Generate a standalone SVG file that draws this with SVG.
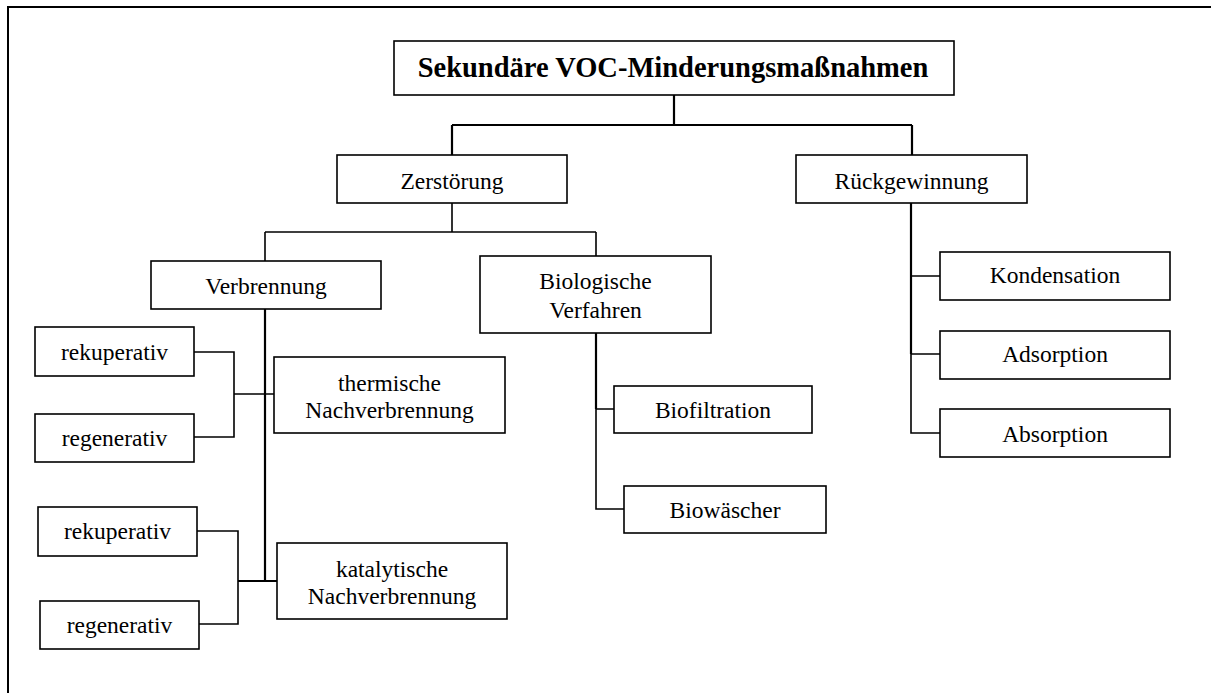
<svg xmlns="http://www.w3.org/2000/svg" width="1211" height="693" viewBox="0 0 1211 693">
<style>
.box{fill:#fff;stroke:#000;stroke-width:1.6}
.t{font-family:"Liberation Serif","Times New Roman",serif;font-size:23.5px;fill:#000;text-anchor:middle}
.tb{font-family:"Liberation Serif","Times New Roman",serif;font-size:28.5px;font-weight:bold;fill:#000;text-anchor:middle}
.c{fill:none;stroke:#000;stroke-width:1.6}
.c2{fill:none;stroke:#000;stroke-width:2.2}
</style>
<rect width="1211" height="693" fill="#fff"/>
<path d="M8,700 V7 H1220" fill="none" stroke="#000" stroke-width="2"/>
<g id="connectors">
<path class="c2" d="M674,95 V125 M452,125 H912 M452,125 V155 M912,125 V155"/>
<path class="c" d="M452,203 V232 M265,232 H596 M265,232 V261 M596,232 V256"/>
<path class="c2" d="M265,309 V581"/>
<path class="c" d="M194,352 H234 V437 H194 M234,394 H274"/>
<path class="c2" d="M238,581 H277"/>
<path class="c" d="M197,531 H238 V624 H199"/>
<path class="c2" d="M596,333 V409"/>
<path class="c" d="M596,409 V509 H624 M596,409 H614"/>
<path class="c2" d="M911,203 V354"/>
<path class="c" d="M911,354 V433 H940 M911,276 H940 M911,354 H940"/>
</g>
<g id="title"><rect class="box" x="394" y="41" width="560" height="54" stroke-width="2"/><text class="tb" x="673" y="77">Sekundäre VOC-Minderungsmaßnahmen</text></g>
<g id="zerstoerung"><rect class="box" x="337" y="155" width="230" height="48"/><text class="t" x="452" y="189">Zerstörung</text></g>
<g id="rueckgewinnung"><rect class="box" x="796" y="155" width="231" height="48"/><text class="t" x="911.5" y="189">Rückgewinnung</text></g>
<g id="verbrennung"><rect class="box" x="151" y="261" width="230" height="48"/><text class="t" x="266" y="294">Verbrennung</text></g>
<g id="biologische"><rect class="box" x="480" y="256" width="231" height="77"/><text class="t" x="595.5" y="289">Biologische</text><text class="t" x="595.5" y="318">Verfahren</text></g>
<g id="rekuperativ1"><rect class="box" x="35" y="327" width="159" height="49"/><text class="t" x="114.5" y="360">rekuperativ</text></g>
<g id="regenerativ1"><rect class="box" x="35" y="414" width="159" height="48"/><text class="t" x="114.5" y="446">regenerativ</text></g>
<g id="thermische"><rect class="box" x="274" y="357" width="231" height="76"/><text class="t" x="389.5" y="391">thermische</text><text class="t" x="389.5" y="418">Nachverbrennung</text></g>
<g id="rekuperativ2"><rect class="box" x="38" y="507" width="159" height="49"/><text class="t" x="117.5" y="539">rekuperativ</text></g>
<g id="regenerativ2"><rect class="box" x="40" y="601" width="159" height="48"/><text class="t" x="119.5" y="633">regenerativ</text></g>
<g id="katalytische"><rect class="box" x="277" y="543" width="230" height="76"/><text class="t" x="392" y="577">katalytische</text><text class="t" x="392" y="604">Nachverbrennung</text></g>
<g id="biofiltration"><rect class="box" x="614" y="386" width="198" height="47"/><text class="t" x="713" y="418">Biofiltration</text></g>
<g id="biowaescher"><rect class="box" x="624" y="486" width="202" height="47"/><text class="t" x="725" y="518">Biowäscher</text></g>
<g id="kondensation"><rect class="box" x="940" y="252" width="230" height="48"/><text class="t" x="1055" y="283">Kondensation</text></g>
<g id="adsorption"><rect class="box" x="940" y="331" width="230" height="48"/><text class="t" x="1055" y="362">Adsorption</text></g>
<g id="absorption"><rect class="box" x="940" y="409" width="230" height="48"/><text class="t" x="1055" y="442">Absorption</text></g>
</svg>
